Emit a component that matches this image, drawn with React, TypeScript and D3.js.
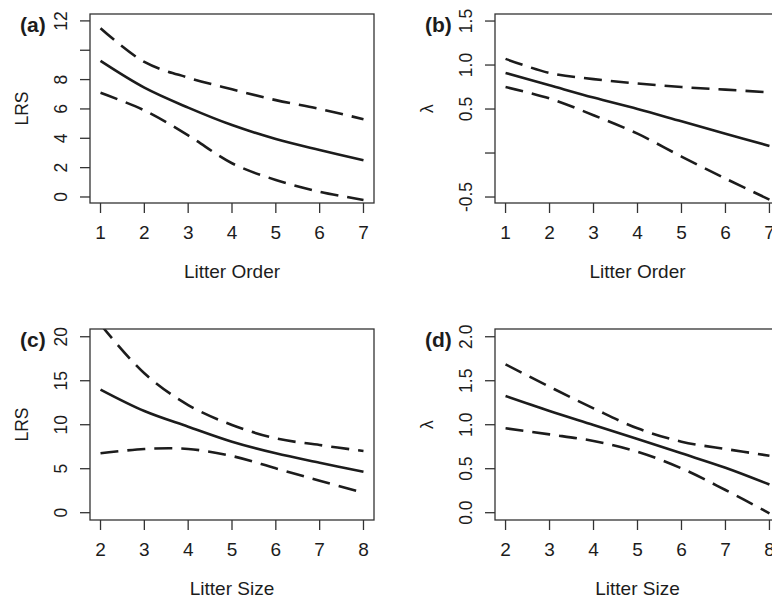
import React from 'react';
import * as d3 from 'd3';

const litterOrder = [1, 2, 3, 4, 5, 6, 7];
const litterSize = [2, 3, 4, 5, 6, 7, 8];

const lrsOrderFit = [9.27, 7.45, 6.09, 4.9, 3.95, 3.2, 2.5];
const lrsOrderUpper = [11.5, 9.2, 8.13, 7.34, 6.6, 6.0, 5.3];
const lrsOrderLower = [7.1, 5.9, 4.2, 2.3, 1.16, 0.36, -0.2];

const lambdaOrderFit = [0.91, 0.77, 0.63, 0.5, 0.36, 0.22, 0.08];
const lambdaOrderUpper = [1.07, 0.91, 0.84, 0.79, 0.75, 0.72, 0.69];
const lambdaOrderLower = [0.75, 0.62, 0.43, 0.22, -0.04, -0.29, -0.53];

const lrsSizeFit = [14.0, 11.56, 9.78, 8.07, 6.75, 5.68, 4.66];
const lrsSizeUpper = [21.4, 15.84, 12.24, 9.97, 8.45, 7.69, 7.01];
const lrsSizeLower = [6.75, 7.24, 7.24, 6.44, 5.04, 3.64, 2.27];

const lambdaSizeFit = [1.326, 1.156, 0.997, 0.837, 0.675, 0.511, 0.32];
const lambdaSizeUpper = [1.686, 1.432, 1.186, 0.959, 0.807, 0.724, 0.648];
const lambdaSizeLower = [0.959, 0.89, 0.815, 0.693, 0.504, 0.258, -0.007];

const lrsOrderTicks = [0, 2, 4, 6, 8, 10, 12];
const lrsOrderLabels = ['0', '2', '4', '6', '8', '', '12'];
const lambdaOrderTicks = [-0.5, 0, 0.5, 1, 1.5];
const lambdaOrderLabels = ['-0.5', '', '0.5', '1.0', '1.5'];
const lrsSizeTicks = [0, 5, 10, 15, 20];
const lrsSizeLabels = ['0', '5', '10', '15', '20'];
const lambdaSizeTicks = [0, 0.5, 1, 1.5, 2];
const lambdaSizeLabels = ['0.0', '0.5', '1.0', '1.5', '2.0'];

const FONT = "'Liberation Sans', Arial, Helvetica, sans-serif";
const INK = '#1c1c1c';

type PanelProps = {
  id: string;
  tag: string;
  left: number;
  right: number;
  top: number;
  bottom: number;
  xs: number[];
  fit: number[];
  upper: number[];
  lower: number[];
  yDomain: [number, number];
  yTicks: number[];
  yLabels: string[];
  yTitle: string;
  xTitle: string;
};

function Panel(p: PanelProps) {
  const xr = p.xs[p.xs.length - 1] - p.xs[0];
  const x = d3
    .scaleLinear()
    .domain([p.xs[0] - 0.04 * xr, p.xs[p.xs.length - 1] + 0.04 * xr])
    .range([p.left, p.right]);
  const y = d3.scaleLinear().domain(p.yDomain).range([p.bottom, p.top]);
  const line = d3
    .line<number>()
    .x((_, i) => x(p.xs[i]))
    .y((d) => y(d))
    .curve(d3.curveCatmullRom.alpha(0.5));
  const clipId = 'clip-' + p.id;
  const midY = (p.top + p.bottom) / 2;
  const midX = (x(p.xs[0]) + x(p.xs[p.xs.length - 1])) / 2;
  return (
    <g>
      <defs>
        <clipPath id={clipId}>
          <rect x={p.left} y={p.top} width={p.right - p.left} height={p.bottom - p.top} />
        </clipPath>
      </defs>
      <g clipPath={`url(#${clipId})`} fill="none" stroke={INK} strokeWidth={2.6}>
        <path d={line(p.upper) || ''} strokeDasharray="18 9" />
        <path d={line(p.lower) || ''} strokeDasharray="18 9" />
        <path d={line(p.fit) || ''} />
      </g>
      <rect
        x={p.left}
        y={p.top}
        width={p.right - p.left}
        height={p.bottom - p.top}
        fill="none"
        stroke="#333"
        strokeWidth={1.3}
      />
      {p.xs.map((v) => (
        <g key={'xt' + v}>
          <line x1={x(v)} x2={x(v)} y1={p.bottom} y2={p.bottom + 10} stroke="#333" strokeWidth={1.3} />
          <text x={x(v)} y={p.bottom + 36} textAnchor="middle" fontSize={19} fontFamily={FONT} fill={INK}>
            {v}
          </text>
        </g>
      ))}
      {p.yTicks.map((v, i) => (
        <g key={'yt' + v}>
          <line x1={p.left - 10} x2={p.left} y1={y(v)} y2={y(v)} stroke="#333" strokeWidth={1.3} />
          {p.yLabels[i] ? (
            <text
              transform={`translate(${p.left - 23},${y(v)}) rotate(-90)`}
              textAnchor="middle"
              fontSize={17.5}
              fontFamily={FONT}
              fill={INK}
            >
              {p.yLabels[i]}
            </text>
          ) : null}
        </g>
      ))}
      <text
        transform={`translate(${p.left - 62},${midY}) rotate(-90)`}
        textAnchor="middle"
        fontSize={17.5}
        fontFamily={FONT}
        fill={INK}
      >
        {p.yTitle}
      </text>
      <text x={midX} y={p.bottom + 75} textAnchor="middle" fontSize={19} fontFamily={FONT} fill={INK}>
        {p.xTitle}
      </text>
      <text
        x={p.left - 70}
        y={p.top + 18}
        fontSize={21}
        fontWeight="bold"
        fontFamily={FONT}
        fill={INK}
      >
        {p.tag}
      </text>
    </g>
  );
}

export default function App() {
  return (
    <svg
      width={772}
      height={598}
      viewBox="0 0 772 598"
      style={{ position: 'absolute', left: 0, top: 0, background: '#fff', display: 'block' }}
    >
      <rect x={0} y={0} width={772} height={598} fill="#fff" />
      <Panel
        id="a"
        tag="(a)"
        left={90}
        right={374}
        top={14}
        bottom={203}
        xs={litterOrder}
        fit={lrsOrderFit}
        upper={lrsOrderUpper}
        lower={lrsOrderLower}
        yDomain={[-0.41, 12.47]}
        yTicks={lrsOrderTicks}
        yLabels={lrsOrderLabels}
        yTitle="LRS"
        xTitle="Litter Order"
      />
      <Panel
        id="b"
        tag="(b)"
        left={495}
        right={780}
        top={14}
        bottom={203}
        xs={litterOrder}
        fit={lambdaOrderFit}
        upper={lambdaOrderUpper}
        lower={lambdaOrderLower}
        yDomain={[-0.568, 1.58]}
        yTicks={lambdaOrderTicks}
        yLabels={lambdaOrderLabels}
        yTitle="λ"
        xTitle="Litter Order"
      />
      <Panel
        id="c"
        tag="(c)"
        left={90}
        right={374}
        top={329}
        bottom={520}
        xs={litterSize}
        fit={lrsSizeFit}
        upper={lrsSizeUpper}
        lower={lrsSizeLower}
        yDomain={[-0.83, 20.88]}
        yTicks={lrsSizeTicks}
        yLabels={lrsSizeLabels}
        yTitle="LRS"
        xTitle="Litter Size"
      />
      <Panel
        id="d"
        tag="(d)"
        left={495}
        right={780}
        top={329}
        bottom={520}
        xs={litterSize}
        fit={lambdaSizeFit}
        upper={lambdaSizeUpper}
        lower={lambdaSizeLower}
        yDomain={[-0.083, 2.088]}
        yTicks={lambdaSizeTicks}
        yLabels={lambdaSizeLabels}
        yTitle="λ"
        xTitle="Litter Size"
      />
    </svg>
  );
}
